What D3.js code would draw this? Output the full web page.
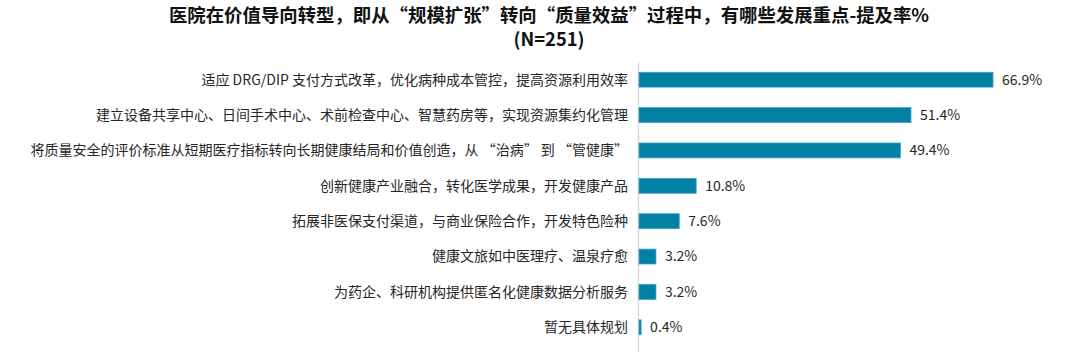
<!DOCTYPE html>
<html>
<head>
<meta charset="utf-8">
<script src="https://cdn.jsdelivr.net/npm/d3@7"></script>
<style>
  body { margin: 0; background: #fff; }
  text { font-family: "Noto Sans CJK SC", "Noto Sans", sans-serif; }
</style>
</head>
<body>
<div id="chart"></div>
<script>
var categories = [
    "适应 DRG/DIP 支付方式改革，优化病种成本管控，提高资源利用效率",
    "建立设备共享中心、日间手术中心、术前检查中心、智慧药房等，实现资源集约化管理",
    "将质量安全的评价标准从短期医疗指标转向长期健康结局和价值创造，从 “治病” 到 “管健康”",
    "创新健康产业融合，转化医学成果，开发健康产品",
    "拓展非医保支付渠道，与商业保险合作，开发特色险种",
    "健康文旅如中医理疗、温泉疗愈",
    "为药企、科研机构提供匿名化健康数据分析服务",
    "暂无具体规划"
];
var values = [66.9, 51.4, 49.4, 10.8, 7.6, 3.2, 3.2, 0.4];
var titleLines = ["医院在价值导向转型，即从“规模扩张”转向“质量效益”过程中，有哪些发展重点-提及率%", "(N=251)"];

var width = 1080, height = 352;
var margin = {top: 62, bottom: 7, left: 639, right: 40};

var svg = d3.select("#chart").append("svg")
    .attr("width", width)
    .attr("height", height);

var x = d3.scaleLinear()
    .domain([0, 66.9])
    .range([margin.left, 993]);

var y = d3.scaleBand()
    .domain(categories)
    .range([margin.top, height - margin.bottom])
    .paddingInner(0.58)
    .paddingOuter(0.29);

// title
svg.append("g").selectAll("text")
    .data(titleLines)
    .enter().append("text")
    .attr("x", 549)
    .attr("y", function(d, i) { return 22 + i * 24; })
    .attr("text-anchor", "middle")
    .style("font-size", "18.4px")
    .style("font-weight", "bold")
    .style("fill", "#111")
    .text(function(d) { return d; });

// axis line
svg.append("line")
    .attr("x1", margin.left - 0.5)
    .attr("x2", margin.left - 0.5)
    .attr("y1", margin.top)
    .attr("y2", height)
    .style("stroke", "#d9d9d9")
    .style("stroke-width", 1.5);

var rows = svg.append("g").selectAll("g")
    .data(values)
    .enter().append("g");

rows.append("rect")
    .attr("x", x(0))
    .attr("y", function(d, i) { return y(categories[i]); })
    .attr("width", function(d) { return x(d) - x(0); })
    .attr("height", y.bandwidth())
    .style("fill", "#0281a5")
    .style("stroke", "#3c9fc0")
    .style("stroke-width", 0.8);

rows.append("text")
    .attr("x", function(d) { return x(d) + 9; })
    .attr("y", function(d, i) { return y(categories[i]) + y.bandwidth() / 2; })
    .attr("dy", "0.35em")
    .style("font-size", "14px")
    .style("fill", "#262626")
    .text(function(d) { return d.toFixed(1) + "%"; });

rows.append("text")
    .attr("x", margin.left - 11)
    .attr("y", function(d, i) { return y(categories[i]) + y.bandwidth() / 2; })
    .attr("dy", "0.35em")
    .attr("text-anchor", "end")
    .style("font-size", "14px")
    .style("fill", "#262626")
    .text(function(d, i) { return categories[i]; });
</script>
</body>
</html>
